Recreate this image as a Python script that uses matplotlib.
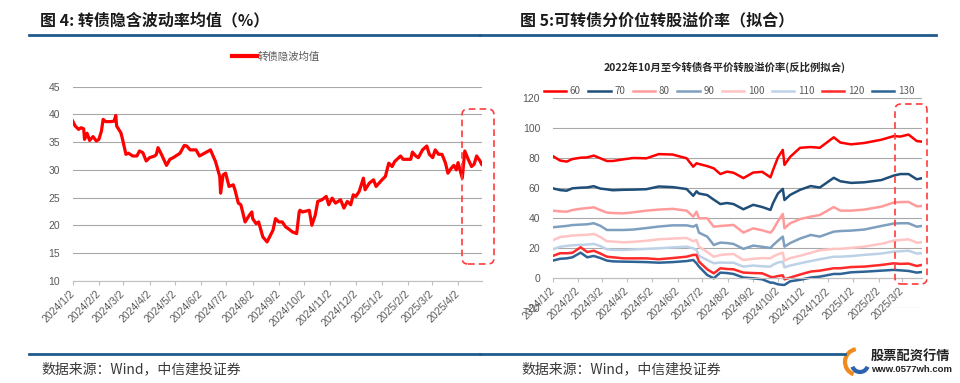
import matplotlib
matplotlib.use("Agg")
import matplotlib.pyplot as plt
from matplotlib.patches import FancyBboxPatch, Arc
from matplotlib.lines import Line2D
from matplotlib.transforms import IdentityTransform
import pandas as pd

plt.rcParams['font.family'] = ['Noto Sans CJK SC', 'DejaVu Sans']

# ---- figure 4 data: 转债隐含波动率均值 ----
left_dates = [
    "2024-01-02", "2024-01-05", "2024-01-09", "2024-01-12", "2024-01-15", "2024-01-16",
    "2024-01-19", "2024-01-22", "2024-01-26", "2024-01-30", "2024-02-02", "2024-02-05",
    "2024-02-07", "2024-02-10", "2024-02-16", "2024-02-20", "2024-02-22", "2024-02-23",
    "2024-02-28", "2024-03-01", "2024-03-05", "2024-03-08", "2024-03-13", "2024-03-18",
    "2024-03-21", "2024-03-25", "2024-03-29", "2024-04-02", "2024-04-08", "2024-04-10",
    "2024-04-12", "2024-04-16", "2024-04-22", "2024-04-26", "2024-04-30", "2024-05-08",
    "2024-05-13", "2024-05-16", "2024-05-20", "2024-05-27", "2024-05-31", "2024-06-07",
    "2024-06-13", "2024-06-19", "2024-06-24", "2024-06-25", "2024-06-28", "2024-07-01",
    "2024-07-02", "2024-07-05", "2024-07-10", "2024-07-12", "2024-07-16", "2024-07-19",
    "2024-07-24", "2024-07-29", "2024-08-01", "2024-08-02", "2024-08-06", "2024-08-09",
    "2024-08-14", "2024-08-19", "2024-08-22", "2024-08-26", "2024-08-29", "2024-09-02",
    "2024-09-06", "2024-09-10", "2024-09-13", "2024-09-18", "2024-09-23", "2024-09-26",
    "2024-09-27", "2024-09-30", "2024-10-08", "2024-10-11", "2024-10-15", "2024-10-18",
    "2024-10-23", "2024-10-28", "2024-10-31", "2024-11-04", "2024-11-08", "2024-11-14",
    "2024-11-18", "2024-11-22", "2024-11-26", "2024-11-29", "2024-12-02", "2024-12-06",
    "2024-12-11", "2024-12-13", "2024-12-18", "2024-12-23", "2024-12-26", "2025-01-02",
    "2025-01-06", "2025-01-10", "2025-01-14", "2025-01-17", "2025-01-22", "2025-01-24",
    "2025-01-27", "2025-02-05", "2025-02-07", "2025-02-11", "2025-02-14", "2025-02-19",
    "2025-02-24", "2025-02-27", "2025-03-03", "2025-03-06", "2025-03-10", "2025-03-14",
    "2025-03-18", "2025-03-21", "2025-03-25", "2025-03-28", "2025-03-31", "2025-04-02",
    "2025-04-07", "2025-04-10", "2025-04-14", "2025-04-18", "2025-04-21", "2025-04-24",
    "2025-04-28", "2025-04-30",
]
left_vol = [
    38.8, 37.9, 37.3, 37.6, 37.4, 35.5,
    36.6, 35.3, 36.0, 35.2, 35.5, 37.0,
    39.1, 38.7, 38.7, 38.8, 39.8, 37.9,
    36.7, 35.5, 32.8, 33.0, 32.5, 32.5,
    33.4, 33.1, 31.6, 32.2, 32.5, 32.8,
    34.0, 32.8, 30.8, 31.9, 32.2, 33.0,
    34.4, 34.3, 33.6, 33.6, 32.5, 33.1,
    33.6, 31.5, 28.8, 25.8, 29.1, 29.4,
    28.8, 27.0, 27.3, 26.4, 24.0, 23.7,
    20.6, 21.8, 22.4, 21.2, 20.3, 20.6,
    17.9, 17.0, 17.9, 19.1, 21.2, 20.6,
    20.6, 19.7, 19.4, 18.8, 18.5, 22.4,
    22.7, 22.4, 22.7, 20.0, 21.8, 24.3,
    24.6, 25.2, 23.7, 24.9, 24.0, 24.6,
    23.1, 24.3, 23.7, 25.5, 25.2, 26.1,
    28.5, 26.4, 27.6, 28.2, 27.0, 28.2,
    28.8, 31.2, 30.6, 31.5, 32.2, 32.5,
    31.9, 31.9, 33.2, 32.5, 32.2, 33.6,
    34.3, 32.8, 32.2, 33.6, 32.8, 32.8,
    31.3, 29.4, 30.3, 30.8, 30.0, 31.3,
    28.5, 33.4, 31.9, 30.6, 31.0, 32.5,
    31.6, 31.0,
]
left_label = "转债隐波均值"
left_ticks = ["2024-01-02", "2024-02-02", "2024-03-02", "2024-04-02", "2024-05-02",
              "2024-06-02", "2024-07-02", "2024-08-02", "2024-09-02", "2024-10-02",
              "2024-11-02", "2024-12-02", "2025-01-02", "2025-02-02", "2025-03-02",
              "2025-04-02"]

# ---- figure 5 data: 各平价转股溢价率 ----
right_dates = [
    "2024-01-02", "2024-01-11", "2024-01-19", "2024-01-26", "2024-02-05", "2024-02-13",
    "2024-02-21", "2024-02-29", "2024-03-08", "2024-03-15", "2024-03-28", "2024-04-09",
    "2024-04-25", "2024-05-10", "2024-05-27", "2024-06-13", "2024-06-21", "2024-06-25",
    "2024-06-28", "2024-07-08", "2024-07-16", "2024-07-24", "2024-08-01", "2024-08-09",
    "2024-08-21", "2024-09-02", "2024-09-13", "2024-09-23", "2024-09-26", "2024-10-02",
    "2024-10-08", "2024-10-10", "2024-10-17", "2024-10-29", "2024-11-11", "2024-11-22",
    "2024-12-09", "2024-12-17", "2024-12-30", "2025-01-15", "2025-02-05", "2025-02-20",
    "2025-02-28", "2025-03-10", "2025-03-20", "2025-03-26",
]
prem_60 = [81.5, 78.5, 77.8, 79.5, 80.4, 80.6, 81.8, 80.0, 78.2, 78.2, 79.3, 80.2, 80.0,
           82.8, 82.5, 80.0, 74.4, 76.7, 76.2, 74.8, 73.3, 69.5, 71.1, 70.4, 66.8, 70.5,
           71.0, 67.3, 72.0, 80.5, 85.6, 75.6, 81.0, 87.0, 87.5, 87.0, 94.0, 90.5, 89.3,
           90.2, 92.4, 94.8, 94.5, 95.8, 91.5, 91.1]
prem_70 = [60.0, 58.8, 58.4, 60.0, 60.4, 60.6, 61.4, 59.8, 59.3, 58.7, 59.0, 59.1, 59.4,
           61.2, 60.8, 59.5, 55.0, 58.0, 56.5, 55.5, 52.4, 49.5, 50.2, 49.5, 46.0, 49.0,
           47.5, 45.6, 50.0, 56.5, 59.6, 52.2, 55.6, 59.0, 61.5, 60.5, 67.0, 64.7, 63.6,
           64.0, 65.5, 68.5, 69.5, 69.5, 66.0, 66.7]
prem_80 = [45.1, 44.6, 44.4, 45.5, 46.4, 46.8, 47.3, 45.5, 43.8, 43.5, 43.3, 44.0, 45.1,
           45.8, 46.3, 45.1, 41.1, 44.4, 40.0, 40.0, 34.4, 34.9, 35.2, 35.6, 30.5, 33.3,
           32.0, 30.4, 32.2, 38.0, 42.9, 33.3, 36.7, 39.5, 41.1, 42.2, 47.5, 45.1, 45.1,
           45.8, 47.8, 50.5, 50.8, 50.9, 48.0, 48.2]
prem_90 = [34.0, 34.5, 34.9, 35.5, 35.8, 36.0, 36.7, 35.0, 32.2, 32.2, 32.2, 32.5, 33.5,
           34.5, 35.3, 35.3, 34.4, 35.6, 30.4, 27.8, 22.2, 23.8, 23.5, 22.9, 19.6, 21.8,
           21.0, 20.2, 22.0, 25.0, 27.8, 21.1, 23.5, 26.5, 28.9, 27.8, 31.1, 31.5, 31.8,
           32.5, 34.9, 36.5, 36.7, 36.7, 34.4, 34.9]
prem_100 = [25.3, 27.5, 28.0, 28.5, 28.8, 29.0, 29.6, 27.5, 24.7, 24.5, 24.0, 24.3, 25.0,
            26.0, 26.5, 26.9, 24.7, 25.5, 21.1, 17.5, 14.4, 15.5, 16.0, 16.2, 12.2, 13.0,
            13.5, 13.3, 14.5, 16.0, 17.1, 11.8, 13.5, 15.0, 17.0, 18.7, 19.6, 19.6, 20.3,
            21.1, 23.0, 25.1, 25.5, 26.0, 23.8, 24.0]
prem_110 = [19.3, 21.0, 21.6, 22.0, 22.3, 22.5, 22.9, 21.5, 19.3, 19.0, 18.9, 19.2, 19.6,
            20.0, 20.6, 21.1, 20.0, 18.9, 15.0, 12.2, 10.0, 10.5, 10.4, 10.4, 7.8, 8.5,
            8.0, 7.8, 9.0, 10.5, 11.1, 7.3, 8.5, 10.0, 11.5, 12.7, 14.4, 14.4, 14.8,
            15.6, 16.5, 17.8, 18.0, 18.4, 16.5, 16.7]
prem_120 = [14.9, 16.7, 16.7, 17.0, 20.7, 17.5, 18.4, 16.5, 14.4, 14.0, 13.3, 13.3, 13.3,
            12.7, 13.5, 14.4, 15.6, 15.6, 11.1, 6.0, 3.3, 6.7, 6.2, 6.0, 3.8, 3.5,
            3.3, 1.0, 0.7, 1.5, 2.0, -0.7, 0.5, 2.5, 4.5, 5.1, 6.7, 6.7, 7.5,
            7.8, 8.9, 10.0, 9.6, 9.8, 8.2, 8.9]
prem_130 = [11.8, 13.0, 13.3, 14.0, 17.1, 14.0, 14.9, 13.5, 11.8, 11.3, 11.1, 11.0, 10.8,
            10.4, 10.8, 11.5, 12.2, 10.0, 7.8, 2.2, 0.0, 3.8, 3.5, 2.9, 0.5, 0.0,
            -0.7, -2.9, -2.9, -4.0, -4.4, -4.4, -2.0, -1.0, 0.5, 1.1, 2.9, 2.9, 4.0,
            4.4, 5.1, 5.6, 5.3, 4.9, 3.8, 4.2]
right_names = ["60", "70", "80", "90", "100", "110", "120", "130"]
right_colors = ["#ff0000", "#1f4e79", "#ff9b9b", "#7f9fbf", "#ffc4c4", "#bdd2e6", "#ff2a2a", "#2e6395"]
right_ticks = left_ticks[:15]

W, H = 960, 383
BLUE = "#205a8c"
TICK_COLOR = "#595959"


def fx(px):
    return px / W


def fy(py):
    return 1 - py / H


def date_label(d):
    return f"{d.year}/{d.month}/{d.day}"


def style_xticks(ax, ticks):
    t = pd.to_datetime(ticks)
    ax.set_xticks(t)
    ax.set_xticklabels([date_label(d) for d in t], rotation=45, ha="right",
                       va="center", rotation_mode="anchor", fontsize=7.5,
                       color=TICK_COLOR, family=["Liberation Sans", "DejaVu Sans"])
    ax.tick_params(axis="x", length=3, pad=5, color="#bfbfbf")
    ax.tick_params(axis="y", length=0, pad=9, labelsize=7.5, labelcolor=TICK_COLOR)
    for lbl in ax.get_yticklabels():
        lbl.set_family(["Liberation Sans", "DejaVu Sans"])


fig = plt.figure(figsize=(W / 100, H / 100), dpi=100)

# ---------------- left chart ----------------
ax1 = fig.add_axes([fx(72.7), fy(280.7), (481.7 - 72.7) / W, (280.7 - 86.7) / H])
ax1.plot(pd.to_datetime(left_dates), left_vol, color="#ff0000", lw=2.3, solid_joinstyle="round")
ax1.set_ylim(10, 45)
ax1.set_yticks(range(10, 46, 5))
ax1.set_xlim(pd.Timestamp("2024-01-02"), pd.Timestamp("2025-04-30"))
ax1.yaxis.grid(True, color="#a8a8a8", lw=0.8)
ax1.set_axisbelow(True)
for s in ["top", "right", "left"]:
    ax1.spines[s].set_visible(False)
ax1.spines["bottom"].set_color("#bfbfbf")
style_xticks(ax1, left_ticks)
ax1.legend(handles=[Line2D([], [], color="#ff0000", lw=3)], labels=[left_label],
           loc="center", bbox_to_anchor=(fx(276), fy(57)), bbox_transform=fig.transFigure,
           frameon=False, fontsize=7.5, handlelength=2.4, handletextpad=0.1,
           labelcolor=TICK_COLOR)

# ---------------- right chart ----------------
ax2 = fig.add_axes([fx(552.7), fy(308.3), (921.7 - 552.7) / W, (308.3 - 98.3) / H])
rd = pd.to_datetime(right_dates)
series = [prem_60, prem_70, prem_80, prem_90, prem_100, prem_110, prem_120, prem_130]
for name, vals, c in zip(right_names, series, right_colors):
    ax2.plot(rd, vals, color=c, lw=1.8, label=name, solid_joinstyle="round")
ax2.set_ylim(-20, 120)
ax2.set_yticks(range(-20, 121, 20))
ax2.set_xlim(pd.Timestamp("2024-01-02"), pd.Timestamp("2025-03-26"))
ax2.yaxis.grid(True, color="#a8a8a8", lw=0.8)
ax2.set_axisbelow(True)
for s in ["top", "right", "left"]:
    ax2.spines[s].set_visible(False)
ax2.spines["bottom"].set_position(("data", 0))
ax2.spines["bottom"].set_color("#bfbfbf")
style_xticks(ax2, right_ticks)
ax2.legend(loc="center", bbox_to_anchor=(fx(729), fy(91)), bbox_transform=fig.transFigure,
           ncol=8, frameon=False, fontsize=7, handlelength=2.3, handletextpad=0.4,
           columnspacing=0.75, labelcolor=TICK_COLOR)
fig.text(fx(725), fy(67), "2022年10月至今转债各平价转股溢价率(反比例拟合)",
         ha="center", va="center", fontsize=7.5, weight="bold", color="#262626")

# ---------------- page decoration ----------------
fig.text(fx(40), fy(20), "图 4: 转债隐含波动率均值（%）", fontsize=11.5, weight="bold",
         va="center", color="#1a1a1a")
fig.text(fx(520), fy(20), "图 5:可转债分价位转股溢价率（拟合）", fontsize=11.5, weight="bold",
         va="center", color="#1a1a1a")
for x0, x1 in [(29, 480), (480, 936)]:
    fig.add_artist(Line2D([fx(x0), fx(x1)], [fy(35), fy(35)], color=BLUE, lw=2))
for x0, x1 in [(29, 480), (480, 845)]:
    fig.add_artist(Line2D([fx(x0), fx(x1)], [fy(354), fy(354)], color=BLUE, lw=2))
for x0 in [41, 521]:
    fig.text(fx(x0), fy(369), "数据来源：Wind，中信建投证券", fontsize=10, style="italic",
             va="center", color="#3a3a3a")

# red dashed highlight boxes (pixel coordinates)
for (x0, y0, x1, y1) in [(462, 109, 494, 264), (895, 104, 927, 284)]:
    fig.add_artist(FancyBboxPatch((x0, H - y1), x1 - x0, y1 - y0,
                                  boxstyle="round,pad=0,rounding_size=6",
                                  transform=IdentityTransform(), fill=False,
                                  ec="#ff3b3b", lw=1.2, ls=(0, (4, 2.5))))

# watermark
fig.add_artist(Arc((858, H - 362), 26, 26, theta1=100, theta2=250,
                   transform=IdentityTransform(), color="#f08a1c", lw=3))
fig.add_artist(Arc((860, H - 364), 16, 16, theta1=200, theta2=340,
                   transform=IdentityTransform(), color="#2d62b0", lw=3))
fig.text(fx(871), fy(356), "股票配资行情", fontsize=9.5, weight="bold", va="center", color="#222222")
fig.text(fx(871), fy(370), "www.0577wh.com", fontsize=6.8, weight="bold", va="center",
         color="#222222", family=["Liberation Sans", "DejaVu Sans"])

fig.savefig("out.png", dpi=100)
